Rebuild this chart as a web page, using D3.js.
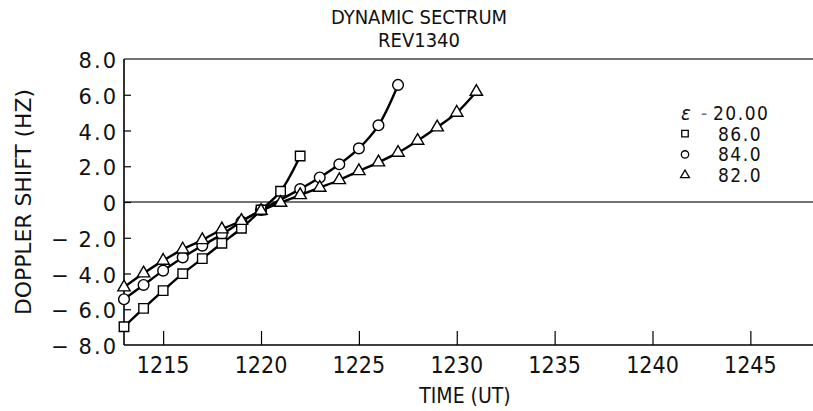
<!DOCTYPE html>
<html>
<head>
<meta charset="utf-8">
<script src="https://cdn.jsdelivr.net/npm/d3@7"></script>
<style>
body { margin: 0; background: #fff; }
svg { display: block; }
.narrow { font-family: "Liberation Sans Narrow", "DejaVu Sans Condensed", sans-serif; fill: #111; }
.wide { font-family: "DejaVu Sans", sans-serif; fill: #111; }
</style>
</head>
<body>
<script>
var width = 813, height = 411;

// data: time (UT minutes) and doppler shift (Hz)
var timesSquare = [1213, 1214, 1215, 1216, 1217, 1218, 1219, 1220, 1221, 1222];
var shiftSquare = [-6.98, -5.95, -4.96, -4.01, -3.17, -2.31, -1.47, -0.45, 0.6, 2.57];

var timesCircle = [1213, 1214, 1215, 1216, 1217, 1218, 1219, 1220, 1222, 1223, 1224, 1225, 1226, 1227];
var shiftCircle = [-5.44, -4.64, -3.84, -3.10, -2.44, -1.81, -1.10, -0.45, 0.72, 1.37, 2.11, 3.0, 4.29, 6.55];

var timesTriangle = [1213, 1214, 1215, 1216, 1217, 1218, 1219, 1220, 1221, 1222, 1223, 1224, 1225, 1226, 1227, 1228, 1229, 1230, 1231];
var shiftTriangle = [-4.77, -3.99, -3.28, -2.65, -2.13, -1.53, -1.05, -0.49, -0.04, 0.39, 0.80, 1.23, 1.73, 2.22, 2.76, 3.43, 4.18, 5.0, 6.17];

var xTicks = [1215, 1220, 1225, 1230, 1235, 1240, 1245];
var yTicks = [-8, -6, -4, -2, 0, 2, 4, 6, 8];

var legendSymbols = ["square", "circle", "triangle"];
var legendLabels = ["86.0", "84.0", "82.0"];

var x = d3.scaleLinear().domain([1213, 1248.2]).range([124, 813]);
var y = d3.scaleLinear().domain([-8, 8]).range([345, 59]);

var svg = d3.select("body").append("svg")
            .attr("width", width).attr("height", height);

// title
svg.append("text").attr("class", "narrow").attr("x", 419).attr("y", 24)
   .attr("text-anchor", "middle").style("font-size", "20px").text("DYNAMIC SECTRUM");
svg.append("text").attr("class", "narrow").attr("x", 419).attr("y", 47)
   .attr("text-anchor", "middle").style("font-size", "20px").text("REV1340");

// frame: top line, zero line, axes
svg.append("line").attr("x1", x.range()[0]).attr("x2", x.range()[1])
   .attr("y1", y(8)).attr("y2", y(8)).attr("stroke", "#444").attr("stroke-width", 1.3);
svg.append("line").attr("x1", x.range()[0]).attr("x2", x.range()[1])
   .attr("y1", y(0)).attr("y2", y(0)).attr("stroke", "#444").attr("stroke-width", 1.3);

var xAxis = d3.axisTop(x).tickValues(xTicks).tickSize(14).tickFormat("");
svg.append("g").attr("transform", "translate(0," + y(-8) + ")").call(xAxis)
   .call(function(g){
       g.select(".domain").attr("d", "M" + x.range()[0] + ",0H" + x.range()[1]).attr("stroke-width", 1.6);
       g.selectAll(".tick line").attr("stroke-width", 1.2);
   });

var yAxis = d3.axisRight(y).tickValues(yTicks.filter(function(d){ return d > -8 && d < 8; }))
              .tickSize(7).tickFormat("");
svg.append("g").attr("transform", "translate(" + x(1213) + ",0)").call(yAxis)
   .call(function(g){
       g.select(".domain").attr("d", "M0," + y(8) + "V" + y(-8)).attr("stroke-width", 1.6);
       g.selectAll(".tick line").attr("stroke-width", 1.2);
   });

// tick labels
svg.append("g").selectAll("text").data(xTicks).enter().append("text")
   .attr("class", "narrow").attr("x", function(d){ return x(d); }).attr("y", 373)
   .attr("text-anchor", "middle").style("font-size", "23px")
   .text(function(d){ return d; });

var yLabels = svg.append("g");
yLabels.selectAll("text.num").data(yTicks).enter().append("text")
   .attr("class", "wide num").attr("x", 118).attr("y", function(d){ return y(d) + 9; })
   .attr("text-anchor", "end").style("font-size", "21px").style("letter-spacing", "2px")
   .text(function(d){ return d == 0 ? "0" : Math.abs(d).toFixed(1); });
yLabels.selectAll("text.minus").data(yTicks.filter(function(d){ return d < 0; })).enter().append("text")
   .attr("class", "wide minus").attr("x", 60).attr("y", function(d){ return y(d) + 9; })
   .attr("text-anchor", "middle").style("font-size", "21px")
   .text("\u2212");

// axis titles
svg.append("text").attr("class", "narrow").attr("x", 465).attr("y", 403)
   .attr("text-anchor", "middle").style("font-size", "21px").text("TIME (UT)");
svg.append("text").attr("class", "narrow")
   .attr("transform", "translate(31,202) rotate(-90)")
   .attr("text-anchor", "middle").style("font-size", "21px")
   .attr("textLength", 226).attr("lengthAdjust", "spacingAndGlyphs")
   .text("DOPPLER SHIFT (HZ)");

// series
var series = [
    {shape: "circle", t: timesCircle, v: shiftCircle},
    {shape: "square", t: timesSquare, v: shiftSquare},
    {shape: "triangle", t: timesTriangle, v: shiftTriangle}
];

var line = d3.line().curve(d3.curveCatmullRom.alpha(0.5))
             .x(function(d){ return x(d[0]); }).y(function(d){ return y(d[1]); });

var symbolType = {square: d3.symbolSquare, circle: d3.symbolCircle, triangle: d3.symbolTriangle};
var symbolSize = {square: 90, circle: 90, triangle: 66};

series.forEach(function(s){
    var pts = s.t.map(function(t, i){ return [t, s.v[i]]; });
    svg.append("path").datum(pts).attr("d", line)
       .attr("fill", "none").attr("stroke", "#000").attr("stroke-width", 2.4);
});

series.forEach(function(s){
    var pts = s.t.map(function(t, i){ return [t, s.v[i]]; });
    svg.append("g").selectAll("path").data(pts).enter().append("path")
       .attr("d", d3.symbol().type(symbolType[s.shape]).size(symbolSize[s.shape]))
       .attr("transform", function(d){ return "translate(" + x(d[0]) + "," + y(d[1]) + ")"; })
       .attr("fill", "#fff").attr("stroke", "#000").attr("stroke-width", 1.4);
});

// legend
var legend = svg.append("g").attr("transform", "translate(685,113)");
var head = legend.append("text").attr("class", "narrow").attr("y", 7)
                 .style("font-size", "19px");
head.append("tspan").attr("x", -4).style("font-style", "italic").style("font-size", "20px").text("\u03b5");
head.append("tspan").attr("x", 16).style("fill", "#777").text("-");
head.append("tspan").attr("x", 28).style("letter-spacing", "1.5px").text("20.00");

var rows = legend.selectAll(".legends").data(legendSymbols).enter().append("g")
                 .classed("legends", true)
                 .attr("transform", function(d, i){ return "translate(0," + (i + 1) * 20.7 + ")"; });
rows.append("path")
    .attr("d", function(d){ return d3.symbol().type(symbolType[d]).size(d == "triangle" ? 34 : 42)(); })
    .attr("fill", "#fff").attr("stroke", "#000").attr("stroke-width", 1.3);
rows.append("text").attr("class", "narrow").attr("x", 33).attr("y", 7)
    .style("font-size", "19px").style("letter-spacing", "1.5px")
    .text(function(d, i){ return legendLabels[i]; });
</script>
</body>
</html>
